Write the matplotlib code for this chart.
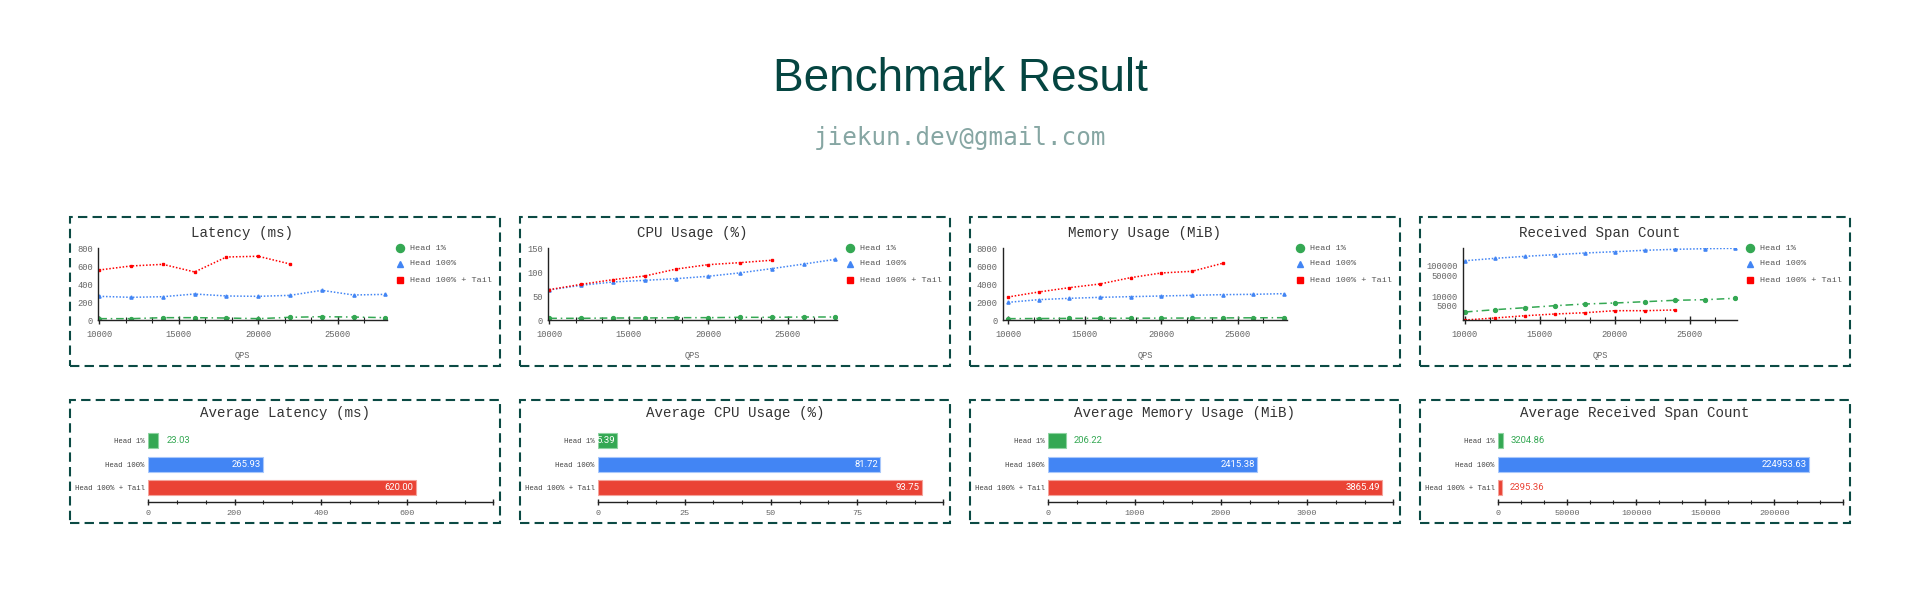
import numpy as np
import matplotlib
matplotlib.use('Agg')
import matplotlib.pyplot as plt
import matplotlib.ticker as mticker
from matplotlib.patches import Rectangle
from matplotlib.lines import Line2D

W, H = 1920, 600

# ---- data ----
qps = [10000, 12000, 14000, 16000, 18000, 20000, 22000, 24000, 26000, 28000]
qps_tail_latency = qps[:7]
qps_tail = qps[:8]

latency_head1 = [15, 15, 26, 26, 22, 15, 30, 37, 33, 26]
latency_head100 = [264, 253, 260, 290, 268, 264, 275, 331, 279, 286]
latency_tail = [558, 603, 621, 536, 703, 711, 625]

cpu_head1 = [3.5, 3.5, 4.2, 4.2, 4.9, 4.9, 5.6, 5.6, 6.3, 6.3]
cpu_head100 = [63, 72.6, 79.5, 83, 86.5, 91.5, 98.6, 107.5, 117, 127]
cpu_tail = [63.5, 74.6, 84.4, 92, 106.7, 115.8, 120, 125]

mem_head1 = [150, 165, 180, 190, 200, 210, 220, 235, 245, 260]
mem_head100 = [1972, 2270, 2419, 2530, 2605, 2679, 2753, 2828, 2865, 2940]
mem_tail = [2567, 3126, 3609, 4019, 4726, 5247, 5433, 6326]

span_head1 = [2930, 3500, 4070, 4750, 5410, 5840, 6460, 7190, 7530, 8380]
span_head100 = [150000, 180000, 210000, 238000, 271000, 300000, 334000, 360000, 377000, 389000]
span_tail = [1585, 1850, 2200, 2510, 2770, 3240, 3240, 3420]

groups = ['Head 1%', 'Head 100%', 'Head 100% + Tail']
avg_latency = [23.03, 265.93, 620.00]
avg_cpu = [5.39, 81.72, 93.75]
avg_mem = [206.22, 2415.38, 3865.49]
avg_span = [3204.86, 224953.63, 2395.36]

line_titles = ['Latency (ms)', 'CPU Usage (%)', 'Memory Usage (MiB)', 'Received Span Count']
bar_titles = ['Average Latency (ms)', 'Average CPU Usage (%)',
              'Average Memory Usage (MiB)', 'Average Received Span Count']

line_data = [
    (latency_head1, latency_head100, latency_tail, qps_tail_latency),
    (cpu_head1, cpu_head100, cpu_tail, qps_tail),
    (mem_head1, mem_head100, mem_tail, qps_tail),
    (span_head1, span_head100, span_tail, qps_tail),
]
bar_data = [avg_latency, avg_cpu, avg_mem, avg_span]

# ---- style ----
GREEN = '#34a853'
BLUE = '#4285f4'
RED_LINE = '#ff0000'
RED_BAR = '#ea4335'
BORDER = '#0b4a44'
MONO = 'Liberation Mono'

y_max = [800, 150, 8000, None]
y_step = [200, 50, 2000, None]
bar_max = [800, 100, 4000, 250000]
bar_step = [200, 25, 1000, 50000]
axis_left_off = [27.7, 27.7, 32.7, 42.7]
x_lims = [(9900, 28100), (9900, 28100), (9650, 28200), (9850, 28150)]


def fx(px):
    return px / W


def fy(py):
    return 1 - py / H


def axes_px(left, top, width, height):
    return fig.add_axes([left / W, 1 - (top + height) / H, width / W, height / H])


fig = plt.figure(figsize=(W / 100, H / 100), dpi=100)
fig.patch.set_facecolor('white')

fig.text(fx(960), fy(91), 'Benchmark Result', ha='center', va='baseline',
         fontsize=33, color='#054541', family='Liberation Sans')
fig.text(fx(960), fy(145), 'jiekun.dev@gmail.com', ha='center', va='baseline',
         fontsize=17.5, color='#86a6a3', family='DejaVu Sans Mono')


def draw_box(left, top, right, bottom):
    r = Rectangle((fx(left), fy(bottom)), fx(right - left), (bottom - top) / H,
                  transform=fig.transFigure, fill=False, edgecolor=BORDER,
                  linewidth=1.5, linestyle=(0, (4.5, 2.5)))
    fig.add_artist(r)


renderer = fig.canvas.get_renderer()

for i in range(4):
    px0 = 70 + 450 * i
    # ---------------- line chart ----------------
    draw_box(px0, 217, px0 + 430, 366)
    a_left = px0 + axis_left_off[i]
    a_right = px0 + 317
    ax = axes_px(a_left, 248.3, a_right - a_left, 320 - 248.3)
    h1, h100, tail, qt = line_data[i]
    ax.plot(qps, h1, color=GREEN, lw=1.1, linestyle=(0, (5, 2.5, 1, 2.5)),
            marker='o', markersize=2.8)
    ax.plot(qps, h100, color=BLUE, lw=1.1, linestyle=(0, (1, 1.2)),
            marker='^', markersize=2.3)
    ax.plot(qt, tail, color=RED_LINE, lw=1.1, linestyle=(0, (1, 1.2)),
            marker='s', markersize=2.0)
    ax.set_xlim(*x_lims[i])
    if y_max[i] is not None:
        ax.set_ylim(0, y_max[i])
        ax.set_yticks(np.arange(0, y_max[i] + 1, y_step[i]))
    else:
        ax.set_yscale('log')
        allv = h1 + h100 + tail
        ax.set_ylim(min(allv), max(allv))
        ax.set_yticks([5000, 10000, 50000, 100000])
        ax.yaxis.set_minor_locator(mticker.NullLocator())
        ax.yaxis.set_major_formatter(mticker.FuncFormatter(lambda v, p: f'{v:.0f}'))
    ax.set_xticks([10000, 15000, 20000, 25000])
    ax.set_xticks(np.arange(10000, 28001, 5000 / 3), minor=True)
    for s in ['top', 'right']:
        ax.spines[s].set_visible(False)
    for s in ['left', 'bottom']:
        ax.spines[s].set_color('#222')
        ax.spines[s].set_linewidth(1.0)
    ax.tick_params(axis='y', length=0, pad=3.5, labelsize=6.3, labelcolor='#666')
    ax.tick_params(axis='x', which='major', direction='inout', length=6, width=1,
                   color='#222', pad=4, labelsize=6.3, labelcolor='#666')
    ax.tick_params(axis='x', which='minor', direction='inout', length=4, width=0.8,
                   color='#222')
    for lab in ax.get_xticklabels() + ax.get_yticklabels():
        lab.set_family(MONO)
    ax.set_facecolor('none')
    fig.text(fx((a_left + a_right) / 2), fy(232.7), line_titles[i], ha='center',
             va='center', fontsize=10.2, color='#333', family=MONO)
    fig.text(fx((a_left + a_right) / 2), fy(355), 'QPS', ha='center', va='center',
             fontsize=6.2, color='#666', family=MONO)
    # legend
    leg = [('o', GREEN, 5.8), ('^', BLUE, 5.0), ('s', RED_LINE, 4.6)]
    for k, (mk, col, ms) in enumerate(leg):
        yy = 248 + 16 * k
        fig.add_artist(Line2D([fx(px0 + 329.5)], [fy(yy)], marker=mk, color=col,
                              markersize=ms, linestyle='none',
                              transform=fig.transFigure))
        fig.text(fx(px0 + 340), fy(yy), groups[k], ha='left', va='center',
                 fontsize=6.1, color='#555', family=MONO)

    # ---------------- bar chart ----------------
    draw_box(px0, 400, px0 + 430, 523.3)
    b_left = px0 + 78.3
    b_width = 345
    bx = axes_px(b_left, 425, b_width, 502.3 - 425)
    vals = bar_data[i]
    cols = [GREEN, BLUE, RED_BAR]
    edges = ['#8fd3a1', '#a9c8fb', '#f4a39b']
    bx.barh(range(3), vals, height=0.62, color=cols, edgecolor=edges, linewidth=0.8)
    bx.set_xlim(0, bar_max[i])
    bx.set_ylim(2.62, -0.67)
    ticks = np.arange(0, bar_max[i] + 1, bar_step[i])
    bx.set_xticks(ticks)
    bx.set_xticklabels([f'{t:g}' if t < bar_max[i] else '' for t in ticks])
    bx.set_xticks(np.arange(0, bar_max[i] + 1, bar_step[i] / 3), minor=True)
    bx.set_yticks(range(3))
    bx.set_yticklabels(groups)
    for s in ['top', 'right', 'left']:
        bx.spines[s].set_visible(False)
    bx.spines['bottom'].set_color('#222')
    bx.spines['bottom'].set_linewidth(1.0)
    bx.tick_params(axis='y', length=0, pad=2.5, labelsize=5.3, labelcolor='#444')
    bx.tick_params(axis='x', which='major', direction='inout', length=5, width=1,
                   color='#222', pad=3, labelsize=6.1, labelcolor='#666')
    bx.tick_params(axis='x', which='minor', direction='inout', length=3.5, width=0.8,
                   color='#222')
    for lab in bx.get_xticklabels() + bx.get_yticklabels():
        lab.set_family(MONO)
    bx.set_facecolor('none')
    fig.text(fx(px0 + 215), fy(413.3), bar_titles[i], ha='center', va='center',
             fontsize=10.2, color='#333', family=MONO)
    px_per_unit = b_width / bar_max[i]
    for k, v in enumerate(vals):
        label = f'{v:.2f}'
        t = bx.text(v, k, label, ha='right', va='center', fontsize=6.8,
                    color='white', family='Roboto')
        t.set_x(v - 2 / px_per_unit)
        tw = t.get_window_extent(renderer=renderer).width
        if tw > v * px_per_unit + 1:
            t.set_x(v + 8 / px_per_unit)
            t.set_ha('left')
            t.set_color(cols[k])

fig.savefig('out.png', dpi=100)
